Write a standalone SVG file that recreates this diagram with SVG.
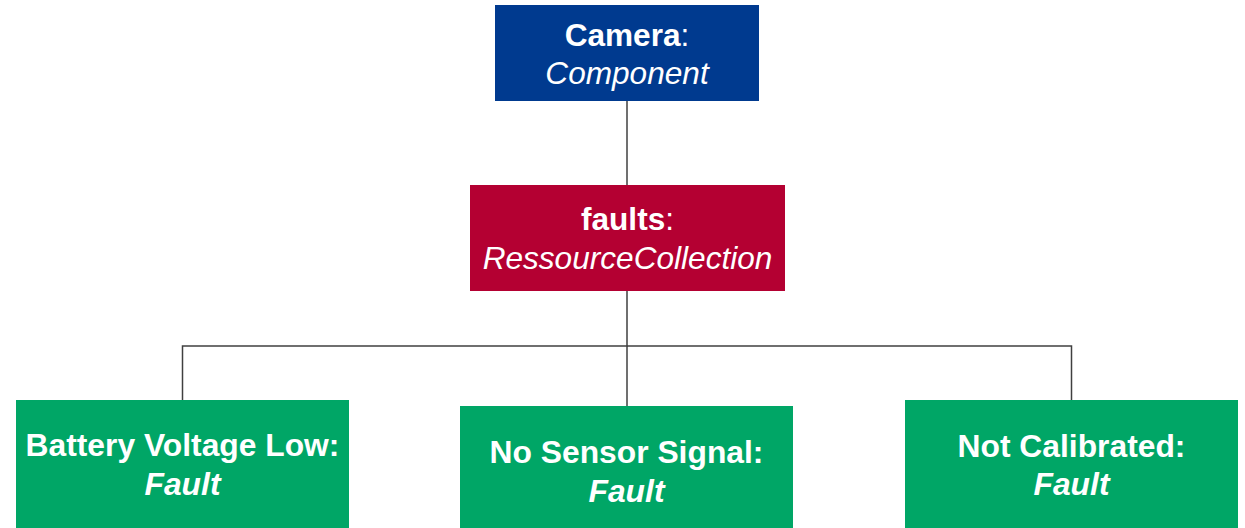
<svg xmlns="http://www.w3.org/2000/svg" width="1245" height="528" viewBox="0 0 1245 528">
<style>
.t{font-family:"Liberation Sans",Arial,sans-serif;font-size:31.6px;fill:#fff;text-anchor:middle}
.g{font-size:31.8px}
.b{font-weight:bold}
.i{font-style:italic}
.c{fill:none;stroke:#404040;stroke-width:1.5}
</style>
<rect width="1245" height="528" fill="#fff"/>
<g id="connectors">
<line class="c" x1="627" y1="101" x2="627" y2="185"/>
<polyline class="c" points="627,291 627,346 182.5,346 182.5,400"/>
<polyline class="c" points="627,346 1071.5,346 1071.5,400"/>
<line class="c" x1="627" y1="346" x2="627" y2="406"/>
</g>
<g id="camera">
<rect x="495" y="5" width="264" height="96" fill="#003A8F"/>
<text class="t" x="627" y="46"><tspan class="b">Camera</tspan>:</text>
<text class="t i" x="627" y="84">Component</text>
</g>
<g id="faults">
<rect x="470" y="185" width="315" height="106" fill="#B40032"/>
<text class="t" x="627.5" y="230"><tspan class="b">faults</tspan>:</text>
<text class="t i" x="627.5" y="269">RessourceCollection</text>
</g>
<g id="battery">
<rect x="16" y="400" width="333" height="128" fill="#00A666"/>
<text class="t g b" x="182.5" y="456">Battery Voltage Low:</text>
<text class="t g b i" x="182.5" y="495">Fault</text>
</g>
<g id="nosignal">
<rect x="460" y="406" width="333" height="122" fill="#00A666"/>
<text class="t g b" x="626.5" y="463">No Sensor Signal:</text>
<text class="t g b i" x="626.5" y="502">Fault</text>
</g>
<g id="notcalibrated">
<rect x="905" y="400" width="333" height="128" fill="#00A666"/>
<text class="t g b" x="1071.5" y="457">Not Calibrated:</text>
<text class="t g b i" x="1071.5" y="495">Fault</text>
</g>
</svg>
